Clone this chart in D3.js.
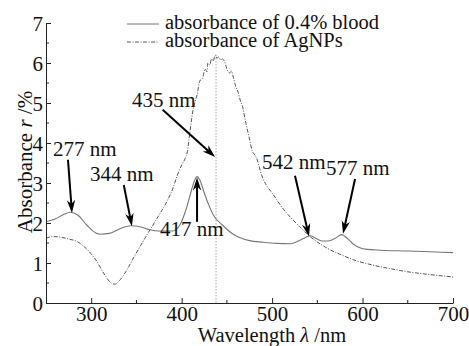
<!DOCTYPE html>
<html>
<head>
<meta charset="utf-8">
<script src="https://cdn.jsdelivr.net/npm/d3@7"></script>
</head>
<body style="margin:0">
<svg id="chart" width="469" height="346" font-family="Liberation Serif"></svg>
<script>
// Absorbance spectra: 0.4% blood (solid) and AgNPs (dash-dot)
const bloodWavelength = [250, 260, 270, 277, 285, 295, 305, 310, 320, 330, 344, 355, 365, 375, 390, 398, 405, 410, 414, 417, 420, 425, 430, 435, 445, 457, 464, 475, 490, 505, 520, 530, 537, 542, 548, 555, 562, 570, 577, 583, 590, 597, 605, 620, 650, 675, 700];
const bloodAbsorbance = [2.03, 2.10, 2.22, 2.27, 2.20, 1.95, 1.75, 1.72, 1.74, 1.84, 1.93, 1.90, 1.83, 1.80, 1.80, 1.95, 2.35, 2.75, 3.05, 3.16, 3.08, 2.75, 2.45, 2.20, 1.95, 1.72, 1.64, 1.56, 1.52, 1.49, 1.48, 1.56, 1.64, 1.68, 1.62, 1.55, 1.55, 1.62, 1.71, 1.62, 1.47, 1.38, 1.34, 1.32, 1.30, 1.28, 1.26];

const agWavelength = [250, 258, 265, 275, 285, 295, 305, 315, 322, 326, 332, 340, 348, 355, 365, 375, 384, 390, 395, 400, 404, 406, 409, 412, 415, 417, 420, 423, 426, 428, 429, 431, 433, 435, 437, 439, 441, 443, 445, 448, 450, 453, 455, 457, 460, 462, 465, 468, 470, 472, 475, 478, 481, 484, 487, 490, 495, 501, 510, 520, 530, 542, 555, 565, 575, 590, 611, 630, 650, 675, 700];
const agAbsorbance = [1.62, 1.66, 1.65, 1.60, 1.53, 1.35, 1.08, 0.70, 0.50, 0.47, 0.58, 0.85, 1.18, 1.45, 1.83, 2.20, 2.55, 2.85, 3.18, 3.45, 3.62, 3.75, 4.25, 4.75, 5.05, 5.20, 5.55, 5.62, 5.85, 5.78, 6.00, 5.95, 6.10, 6.05, 6.20, 6.12, 6.15, 6.08, 6.10, 6.00, 5.85, 5.75, 5.80, 5.65, 5.40, 5.30, 5.05, 4.85, 4.60, 4.40, 4.10, 3.80, 3.70, 3.55, 3.30, 3.10, 2.90, 2.72, 2.42, 2.15, 1.92, 1.66, 1.45, 1.32, 1.22, 1.08, 0.95, 0.86, 0.78, 0.71, 0.65];

// Plasmon peak marker line
const markerWavelength = 438;

// Axis ticks
const xMajorTicks = [300, 400, 500, 600, 700];
const xMinorTicks = [350, 450, 550, 650];
const yMajorTicks = [0, 1, 2, 3, 4, 5, 6, 7];
const yMinorTicks = [0.5, 1.5, 2.5, 3.5, 4.5, 5.5, 6.5];

// Peak annotations: label, arrow tip, arrow tail, label anchor (data units)
const annoLabels = ["277 nm", "344 nm", "417 nm", "435 nm", "542 nm", "577 nm"];
const annoTip    = [[278.7, 2.25], [345, 1.92], [417, 3.14], [437, 3.65], [540.8, 1.66], [578.4, 1.73]];
const annoTail   = [[274.3, 3.58], [336, 2.95], [417, 2.03], [379, 4.83], [525.3, 3.18], [591.7, 3.10]];
const annoText   = [[257.7, 3.675], [298.6, 3.05], [376, 1.675], [345, 4.9], [488.8, 3.35], [559.6, 3.2]];

const legendLabels = ["absorbance of 0.4% blood", "absorbance of AgNPs"];

const FAMILY = "Liberation Serif";
const fontSize = 21;

const svg = d3.select("#chart");
const x = d3.scaleLinear().domain([250, 700]).range([46, 453]);
const y = d3.scaleLinear().domain([0, 7]).range([303, 23]);

const axisColor = "#222";

function styleText(sel, size) {
  return sel.attr("font-family", FAMILY).attr("font-size", size).attr("fill", "#111")
    .style("font-family", `"${FAMILY}"`).style("font-size", size + "px");
}

// Vertical dotted line at the AgNPs peak
svg.append("line")
  .attr("x1", x(markerWavelength)).attr("x2", x(markerWavelength))
  .attr("y1", y(6.2)).attr("y2", y(0))
  .attr("stroke", "#aaa").attr("stroke-width", 1)
  .attr("stroke-dasharray", "1.5,1.5");

// Curves
const line = d3.line().curve(d3.curveMonotoneX)
  .x(d => x(d[0])).y(d => y(d[1]));

const bloodData = bloodWavelength.map((w, i) => [w, bloodAbsorbance[i]]);
const agData = agWavelength.map((w, i) => [w, agAbsorbance[i]]);

svg.append("path").datum(bloodData)
  .attr("d", line).attr("fill", "none")
  .attr("stroke", "#777").attr("stroke-width", 1.1);

svg.append("path").datum(agData)
  .attr("d", line).attr("fill", "none")
  .attr("stroke", "#555").attr("stroke-width", 1)
  .attr("stroke-dasharray", "4,1.5,1,1.5");

// Axes with inward ticks
const gx = svg.append("g").attr("transform", `translate(0,${y(0)})`);
gx.call(d3.axisBottom(x).tickValues(xMajorTicks).tickSizeInner(-5).tickSizeOuter(0).tickPadding(4).tickFormat(d3.format("d")));
gx.append("g").selectAll("line").data(xMinorTicks).join("line")
  .attr("x1", d => x(d)).attr("x2", d => x(d)).attr("y1", 0).attr("y2", -3)
  .attr("stroke", axisColor);

const gy = svg.append("g").attr("transform", `translate(${x(250)},0)`);
gy.call(d3.axisLeft(y).tickValues(yMajorTicks).tickSizeInner(-5).tickSizeOuter(0).tickPadding(3).tickFormat(d3.format("d")));
gy.append("g").selectAll("line").data(yMinorTicks).join("line")
  .attr("y1", d => y(d)).attr("y2", d => y(d)).attr("x1", 0).attr("x2", 3)
  .attr("stroke", axisColor);

[gx, gy].forEach(g => {
  g.attr("font-family", FAMILY).attr("font-size", fontSize);
  g.selectAll(".domain").attr("stroke", axisColor).attr("stroke-width", 1);
  g.selectAll(".tick line").attr("stroke", axisColor);
  styleText(g.selectAll(".tick text"), fontSize);
});
gx.selectAll(".tick text").attr("dy", "0.68em");
gy.selectAll(".tick text").attr("dy", "0.34em");

// Axis titles
const xt = styleText(svg.append("text").attr("x", 272).attr("y", 342)
  .attr("text-anchor", "middle"), 20.5);
xt.append("tspan").text("Wavelength ");
xt.append("tspan").attr("font-style", "italic").text("λ");
xt.append("tspan").text(" /nm");

const yt = styleText(svg.append("text")
  .attr("transform", `translate(32,162) rotate(-90)`)
  .attr("text-anchor", "middle"), fontSize);
yt.append("tspan").text("Absorbance ");
yt.append("tspan").attr("font-style", "italic").text("r");
yt.append("tspan").text(" /%");

// Legend
const legendY = [24, 42];
const legendDash = [null, "4,1.5,1,1.5"];
const legendStroke = ["#777", "#555"];
legendLabels.forEach((lab, i) => {
  svg.append("line")
    .attr("x1", 127).attr("x2", 159).attr("y1", legendY[i]).attr("y2", legendY[i])
    .attr("stroke", legendStroke[i]).attr("stroke-width", 1)
    .attr("stroke-dasharray", legendDash[i]);
  styleText(svg.append("text").attr("x", 165).attr("y", legendY[i] + 5), 20.5).text(lab);
});

// Annotation arrows
function arrow(tail, tip) {
  const x0 = x(tail[0]), y0 = y(tail[1]), x1 = x(tip[0]), y1 = y(tip[1]);
  const dx = x1 - x0, dy = y1 - y0, len = Math.hypot(dx, dy);
  const ux = dx / len, uy = dy / len;
  const hl = 13, hw = 4.2;
  const bx = x1 - ux * hl, by = y1 - uy * hl;
  svg.append("line")
    .attr("x1", x0).attr("y1", y0).attr("x2", x1 - ux * 8).attr("y2", y1 - uy * 8)
    .attr("stroke", "#000").attr("stroke-width", 2);
  svg.append("path")
    .attr("d", `M${x1},${y1} L${bx - uy * hw},${by + ux * hw} L${x1 - ux * 9},${y1 - uy * 9} L${bx + uy * hw},${by - ux * hw} Z`)
    .attr("fill", "#000");
}
annoLabels.forEach((lab, i) => {
  arrow(annoTail[i], annoTip[i]);
  styleText(svg.append("text")
    .attr("x", x(annoText[i][0])).attr("y", y(annoText[i][1])), fontSize).text(lab);
});
</script>
</body>
</html>
